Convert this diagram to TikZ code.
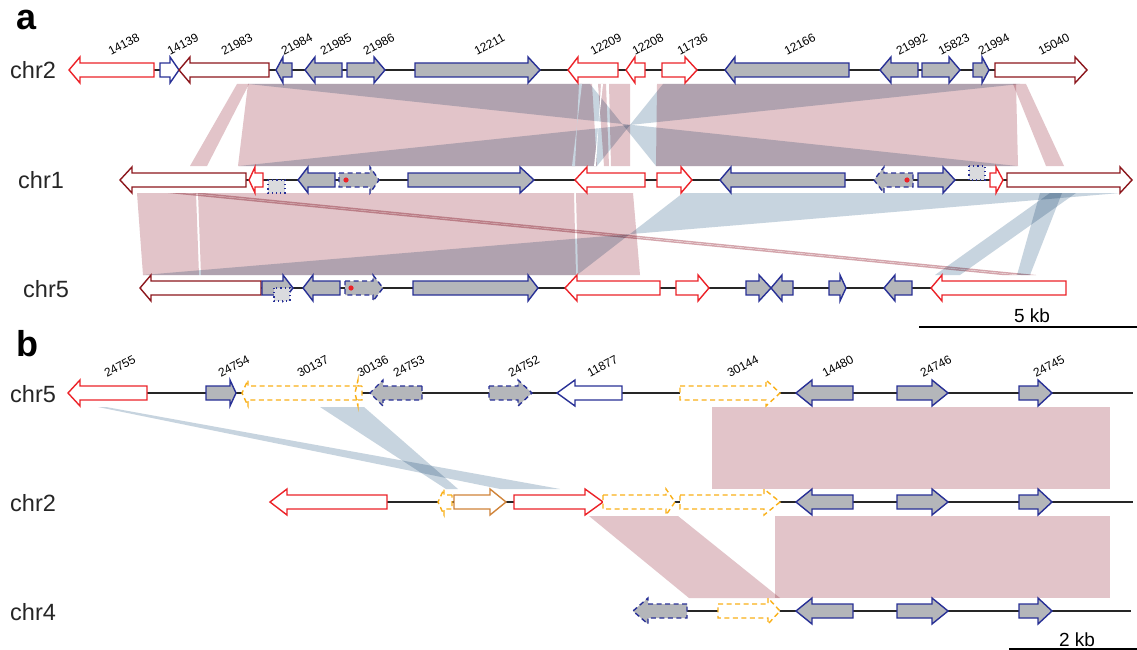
\documentclass[tikz,border=0pt]{standalone}
\usepackage{fontspec}
\setmainfont{Liberation Sans}
\definecolor{gred}{RGB}{236,34,40}
\definecolor{gdred}{RGB}{140,22,28}
\definecolor{gnavy}{RGB}{40,48,150}
\definecolor{ggray}{RGB}{180,182,186}
\definecolor{glgray}{RGB}{218,219,222}
\definecolor{gorange}{RGB}{250,176,24}
\definecolor{gcopper}{RGB}{208,132,58}
\definecolor{ribpink}{RGB}{226,196,201}
\definecolor{ribpinkd}{RGB}{212,165,172}
\definecolor{ribblue}{RGB}{199,212,223}
\def\bh{7}
\def\hh{13}
\newcommand{\gn}[5]{\draw[#1] (#3,#2-\bh)--(#4,#2-\bh)--(#4,#2-\hh)--(#5,#2)--(#4,#2+\hh)--(#4,#2+\bh)--(#3,#2+\bh)--cycle;}
\newcommand{\rib}[7]{\fill[#1] (#3,#2)--(#4,#2)--(#7,#5)--(#6,#5)--cycle;}
\newcommand{\lab}[3]{\node[glab] at (#1,#2) {#3};}
\begin{document}
\begin{tikzpicture}[x=1pt,y=-1pt,
  gbase/.style={line width=1.4pt,line join=miter},
  redg/.style={gbase,draw=gred,fill=white},
  dredg/.style={gbase,draw=gdred,fill=white},
  blueg/.style={gbase,draw=gnavy,fill=ggray},
  bluew/.style={gbase,draw=gnavy,fill=white},
  blued/.style={gbase,draw=gnavy,fill=ggray,dash pattern=on 5pt off 3.5pt},
  orgd/.style={gbase,draw=gorange,fill=white,dash pattern=on 5pt off 3.5pt},
  copg/.style={gbase,draw=gcopper,fill=white},
  dotbox/.style={line width=1.2pt,draw=gnavy,fill=glgray,dash pattern=on 1.2pt off 3pt},
  chrline/.style={line width=1.2pt,draw=black!85},
  pk/.style={fill=ribpink},
  pkd/.style={fill=ribpinkd},
  bl/.style={fill=ribblue},
  glab/.style={anchor=south west,rotate=28,inner sep=0pt,font=\fontsize{12}{14}\selectfont},
  chrlab/.style={anchor=base west,inner sep=0pt,font=\fontsize{23.5}{27}\selectfont,text=black!85},
  kb/.style={anchor=base,inner sep=0pt,font=\fontsize{19}{22}\selectfont},
  panel/.style={anchor=base west,inner sep=0pt,font=\fontsize{36}{40}\selectfont\bfseries},
  dot/.style={fill=gred}]
\useasboundingbox (0,0) rectangle (1137,650);
\fill[white] (0,0) rectangle (1137,650);

% ---------------- ribbons
\begin{scope}[blend mode=multiply]
% panel a, chr2 -> chr1
\rib{pk}{84}{237}{249}{166}{190}{207}
\rib{pk}{84}{248}{592}{166}{238}{597}
\rib{pk}{84}{598}{606}{166}{604}{609}
\rib{pk}{84}{609}{630}{166}{611}{630}
\rib{pk}{84}{657}{1016}{166}{656}{1018}
\rib{pk}{84}{1013}{1026}{166}{1046}{1064}
\rib{bl}{84}{248}{590}{166}{1017}{656}
\rib{bl}{84}{663}{1020}{166}{597}{239}
% panel a, chr1 -> chr5
\rib{pk}{193}{137}{196}{275}{143}{199}
\rib{pk}{193}{198}{574}{275}{201}{576}
\rib{pk}{193}{576}{633}{275}{578}{640}
\rib{pkd}{193}{168}{183}{275}{1002}{1017}
\rib{pkd}{193}{188}{203}{275}{1021}{1036}
\rib{bl}{193}{683}{1120}{275}{577}{143}
\rib{bl}{193}{1040}{1062}{275}{1017}{1030}
\rib{bl}{193}{1050}{1076}{275}{935}{960}
% panel b
\rib{pk}{407}{712}{1110}{489}{712}{1110}
\rib{pk}{516}{775}{1110}{598}{775}{1110}
\rib{pk}{516}{589}{678}{598}{689}{780}
\rib{bl}{407}{98}{106}{489}{500}{560}
\rib{bl}{407}{320}{364}{489}{446}{458}
\end{scope}
% thin light strips between ribbons
\rib{bl}{84}{579}{582}{166}{575}{572}
\rib{fill=white}{84}{601}{603}{166}{596}{594}

% ---------------- panel a
\node[panel] at (16,30) {a};
\node[chrlab] at (10,79) {chr2};
\node[chrlab] at (18,188) {chr1};
\node[chrlab] at (23,297) {chr5};

\draw[chrline] (154,70)--(995,70);
\gn{redg}{70}{154}{80}{69}
\gn{bluew}{70}{160}{170}{179}
\gn{dredg}{70}{269}{190}{179}
\gn{blueg}{70}{292}{283}{276}
\gn{blueg}{70}{342}{315}{305}
\gn{blueg}{70}{347}{374}{385}
\gn{blueg}{70}{415}{528}{540}
\gn{redg}{70}{618}{578}{568}
\gn{redg}{70}{645}{635}{626}
\gn{redg}{70}{662}{685}{697}
\gn{blueg}{70}{849}{735}{725}
\gn{blueg}{70}{918}{891}{880}
\gn{blueg}{70}{922}{949}{960}
\gn{blueg}{70}{973}{982}{989}
\gn{dredg}{70}{995}{1075}{1087}
\lab{111}{56}{14138}
\lab{170}{56}{14139}
\lab{224}{56}{21983}
\lab{284}{56}{21984}
\lab{323}{56}{21985}
\lab{366}{56}{21986}
\lab{477}{56}{12211}
\lab{593}{56}{12209}
\lab{635}{56}{12208}
\lab{680}{56}{11736}
\lab{787}{56}{12166}
\lab{899}{56}{21992}
\lab{941}{56}{15823}
\lab{981}{56}{21994}
\lab{1041}{56}{15040}

\draw[chrline] (246,180)--(1007,180);
\gn{dredg}{180}{246}{132}{120}
\gn{redg}{180}{263}{255}{249}
\draw[dotbox] (268,180) rectangle (285,193);
\gn{blueg}{180}{335}{308}{298}
\gn{blued}{180}{339}{370}{379}
\fill[dot] (346,180) circle (2.6);
\gn{blueg}{180}{408}{520}{534}
\gn{redg}{180}{645}{587}{575}
\gn{redg}{180}{657}{681}{692}
\gn{blueg}{180}{845}{731}{720}
\gn{blued}{180}{913}{884}{874}
\fill[dot] (907,180) circle (2.6);
\gn{blueg}{180}{918}{943}{955}
\draw[dotbox] (969,166) rectangle (985,180);
\gn{redg}{180}{990}{996}{1003}
\gn{dredg}{180}{1007}{1120}{1132}

\draw[chrline] (261,288)--(931,288);
\gn{dredg}{288}{261}{151}{140}
\gn{blueg}{288}{262}{283}{293}
\draw[dotbox] (274,288) rectangle (290,301);
\gn{blueg}{288}{340}{313}{303}
\gn{blued}{288}{345}{373}{383}
\fill[dot] (351,288) circle (2.6);
\gn{blueg}{288}{413}{528}{538}
\gn{redg}{288}{660}{577}{565}
\gn{redg}{288}{676}{698}{709}
\gn{blueg}{288}{746}{759}{771}
\gn{blueg}{288}{793}{782}{771}
\gn{blueg}{288}{829}{840}{846}
\gn{blueg}{288}{912}{895}{884}
\gn{redg}{288}{1066}{942}{931}

\node[kb] at (1032,322) {5 kb};
\draw[line width=1.3pt] (919,327)--(1137,327);

% ---------------- panel b
\node[panel] at (16,356) {b};
\node[chrlab] at (10,402) {chr5};
\node[chrlab] at (10,511) {chr2};
\node[chrlab] at (10,620) {chr4};

\draw[chrline] (147,393)--(1133,393);
\gn{redg}{393}{147}{80}{68}
\gn{blueg}{393}{206}{230}{236}
\gn{orgd}{393}{358}{248}{242}
\gn{orgd}{393}{362}{358}{355}
\gn{blued}{393}{422}{383}{370}
\gn{blued}{393}{489}{518}{532}
\gn{bluew}{393}{622}{575}{557}
\gn{orgd}{393}{680}{766}{780}
\gn{blueg}{393}{853}{812}{796}
\gn{blueg}{393}{897}{932}{948}
\gn{blueg}{393}{1019}{1038}{1052}
\lab{107}{378}{24755}
\lab{221}{378}{24754}
\lab{300}{378}{30137}
\lab{360}{378}{30136}
\lab{396}{378}{24753}
\lab{511}{378}{24752}
\lab{590}{378}{11877}
\lab{730}{378}{30144}
\lab{825}{378}{14480}
\lab{923}{378}{24746}
\lab{1036}{378}{24745}

\draw[chrline] (387,502)--(1133,502);
\gn{redg}{502}{387}{287}{270}
\gn{orgd}{502}{452}{444}{438}
\gn{copg}{502}{454}{490}{506}
\gn{redg}{502}{514}{585}{603}
\gn{orgd}{502}{603}{666}{675}
\gn{orgd}{502}{680}{764}{780}
\gn{blueg}{502}{853}{812}{796}
\gn{blueg}{502}{897}{932}{948}
\gn{blueg}{502}{1019}{1038}{1052}

\draw[chrline] (687,611)--(1131,611);
\gn{blued}{611}{687}{648}{633}
\gn{orgd}{611}{718}{768}{780}
\gn{blueg}{611}{853}{812}{796}
\gn{blueg}{611}{897}{932}{948}
\gn{blueg}{611}{1019}{1038}{1052}

\node[kb] at (1077,646) {2 kb};
\draw[line width=1.3pt] (1009,649)--(1137,649);
\end{tikzpicture}
\end{document}
